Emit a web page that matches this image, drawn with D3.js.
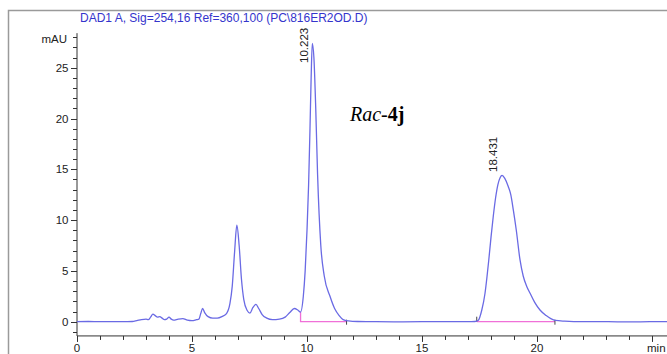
<!DOCTYPE html>
<html><head><meta charset="utf-8">
<script src="https://cdn.jsdelivr.net/npm/d3@7"></script>
<style>html,body{margin:0;padding:0;background:#fff;overflow:hidden}</style>
</head><body>
<svg id="c" width="667" height="354"></svg>
<script>
// ---- data ----
const title = "DAD1 A, Sig=254,16 Ref=360,100 (PC\\816ER2OD.D)";
const yUnit = "mAU";
const xUnit = "min";
const traceTime  = [0, 0.5, 1, 1.5, 2, 2.4, 2.6, 2.8, 3.0, 3.1, 3.2, 3.3, 3.4, 3.5, 3.6, 3.7, 3.8, 3.9, 4.0, 4.1, 4.2, 4.4, 4.6, 4.8, 5.0, 5.2, 5.3, 5.38, 5.46, 5.55, 5.7, 5.9, 6.1, 6.3, 6.5, 6.65, 6.75, 6.85, 6.95, 7.05, 7.15, 7.25, 7.4, 7.52, 7.65, 7.78, 7.9, 8.05, 8.25, 8.5, 8.8, 9.05, 9.25, 9.45, 9.6, 9.72, 9.84, 9.92, 10.0, 10.07, 10.13, 10.18, 10.23, 10.3, 10.38, 10.46, 10.6, 10.75, 11.0, 11.2, 11.4, 11.57, 11.8, 12.2, 13, 14, 15, 16, 17, 17.3, 17.45, 17.6, 17.74, 17.82, 17.9, 18.0, 18.1, 18.2, 18.3, 18.4, 18.48, 18.6, 18.75, 18.86, 18.97, 19.1, 19.26, 19.4, 19.55, 19.7, 19.9, 20.13, 20.4, 20.6, 20.8, 21.2, 22, 23, 24, 25, 25.7];
const traceValue = [0, 0.02, 0, 0.01, 0, 0.02, 0.1, 0.2, 0.25, 0.2, 0.45, 0.75, 0.6, 0.45, 0.5, 0.35, 0.2, 0.25, 0.45, 0.25, 0.15, 0.25, 0.3, 0.15, 0.1, 0.2, 0.25, 0.8, 1.3, 0.9, 0.5, 0.35, 0.35, 0.5, 0.8, 1.8, 3.5, 6.8, 9.5, 7.5, 4.2, 2.2, 1.1, 0.85, 1.4, 1.7, 1.3, 0.7, 0.35, 0.2, 0.25, 0.45, 0.9, 1.3, 1.15, 0.95, 2.5, 5.0, 9.0, 13.5, 19.0, 24.0, 27.4, 26.0, 21.0, 14.5, 7.5, 4.5, 2.5, 1.3, 0.6, 0.2, 0.08, 0.02, 0, -0.02, 0, 0.01, 0, 0.02, 0.15, 1.15, 2.8, 4.3, 6.0, 8.3, 10.4, 12.2, 13.5, 14.2, 14.4, 14.1, 13.3, 12.5, 11.0, 9.0, 6.1, 4.5, 3.5, 2.8, 1.9, 1.15, 0.6, 0.3, 0.12, 0.05, 0, 0, -0.02, 0, 0];
const peakTimes  = [10.223, 18.431];
const peakLabels = ["10.223", "18.431"];
const baselineStart = [9.72, 17.38];
const baselineStartValue = [0.95, 0.0];
const baselineEnd = [11.72, 20.78];
const xMajorTicks = [0, 5, 10, 15, 20, 25];
const xTickLabels = ["0", "5", "10", "15", "20", "min"];
const yMajorTicks = [0, 5, 10, 15, 20, 25];

// ---- layout ----
const svg = d3.select("#c");
const x = d3.scaleLinear().domain([0, 25]).range([77, 652]);
const y = d3.scaleLinear().domain([0, 25]).range([321.7, 67.7]);
const yAxisBottom = -1.4, yAxisTop = 28.4;
const axisY = y(yAxisBottom);
const font = "'Liberation Sans', Arial, sans-serif";

// frame
svg.append("path").attr("d", "M8.5,354 L8.5,10.5 L667,10.5")
  .attr("fill", "none").attr("stroke", "#9a9a9a").attr("stroke-width", 1.5);

// title
svg.append("text").attr("x", 80).attr("y", 21.5).text(title)
  .attr("font-family", font).attr("font-size", 12).attr("fill", "#3434cc");

// y axis
const gy = svg.append("g").attr("stroke", "#333");
gy.append("line").attr("x1", 77).attr("x2", 77).attr("y1", y(yAxisTop)).attr("y2", axisY).attr("stroke-width", 1);
const yMinor = d3.range(-1, 29);
gy.selectAll("line.mi").data(yMinor).join("line").attr("class", "mi")
  .attr("x1", d => yMajorTicks.includes(d) ? 71 : 73).attr("x2", 77)
  .attr("y1", d => Math.round(y(d)) + 0.5).attr("y2", d => Math.round(y(d)) + 0.5);
svg.selectAll("text.yl").data(yMajorTicks).join("text").attr("class", "yl")
  .attr("x", 68.5).attr("y", d => y(d) + 4).attr("text-anchor", "end")
  .attr("font-family", font).attr("font-size", 11.5).attr("fill", "#222").text(d => d);
svg.append("text").attr("x", 67).attr("y", 43).attr("text-anchor", "end")
  .attr("font-family", font).attr("font-size", 11.5).attr("fill", "#222").text(yUnit);

// x axis
const gx = svg.append("g").attr("stroke", "#333");
gx.append("line").attr("x1", 77).attr("x2", 667).attr("y1", axisY).attr("y2", axisY);
gx.selectAll("line.t").data(d3.range(0, 26)).join("line").attr("class", "t")
  .attr("x1", d => Math.round(x(d)) + 0.5).attr("x2", d => Math.round(x(d)) + 0.5)
  .attr("y1", axisY).attr("y2", d => axisY + (xMajorTicks.includes(d) ? 6 : 4));
svg.selectAll("text.xl").data(xMajorTicks).join("text").attr("class", "xl")
  .attr("x", d => x(d)).attr("y", 351.5).attr("text-anchor", (d, i) => i === xMajorTicks.length - 1 ? "start" : "middle")
  .attr("dx", (d, i) => i === xMajorTicks.length - 1 ? -5 : 0)
  .attr("font-family", font).attr("font-size", 11.5).attr("fill", "#222").text((d, i) => xTickLabels[i]);

// integration baselines
baselineStart.forEach((s, i) => {
  const pts = [[s, baselineStartValue[i]], [s, 0], [baselineEnd[i], 0]];
  svg.append("path").attr("d", d3.line().x(d => x(d[0])).y(d => y(d[1]))(pts))
    .attr("fill", "none").attr("stroke", "#f070d8").attr("stroke-width", 1.3);
  svg.append("line").attr("x1", x(baselineEnd[i])).attr("x2", x(baselineEnd[i]))
    .attr("y1", y(0) - 2).attr("y2", y(0) + 3).attr("stroke", "#444");
});
svg.append("line").attr("x1", x(baselineStart[1])).attr("x2", x(baselineStart[1]))
  .attr("y1", y(0) - 5).attr("y2", y(0)).attr("stroke", "#444");

// trace
const trace = traceTime.map((t, i) => [t, traceValue[i]]);
svg.append("path").attr("d", d3.line().curve(d3.curveMonotoneX).x(d => x(d[0])).y(d => y(d[1]))(trace))
  .attr("fill", "none").attr("stroke", "#6a6ae4").attr("stroke-width", 1.3);

// peak labels
peakTimes.forEach((t, i) => {
  const px = x(t) - 4, py = i === 0 ? 63 : 172;
  svg.append("text").attr("transform", `translate(${px},${py}) rotate(-90)`)
    .attr("font-family", font).attr("font-size", 11.5).attr("fill", "#222").text(peakLabels[i]);
});

// annotation
const ann = svg.append("text").attr("x", 350).attr("y", 121)
  .attr("font-family", "'Liberation Serif', 'Times New Roman', serif").attr("font-size", 20).attr("fill", "#000");
ann.append("tspan").attr("font-style", "italic").text("Rac");
ann.append("tspan").text("-");
ann.append("tspan").attr("font-weight", "bold").text("4j");
</script>
</body></html>
